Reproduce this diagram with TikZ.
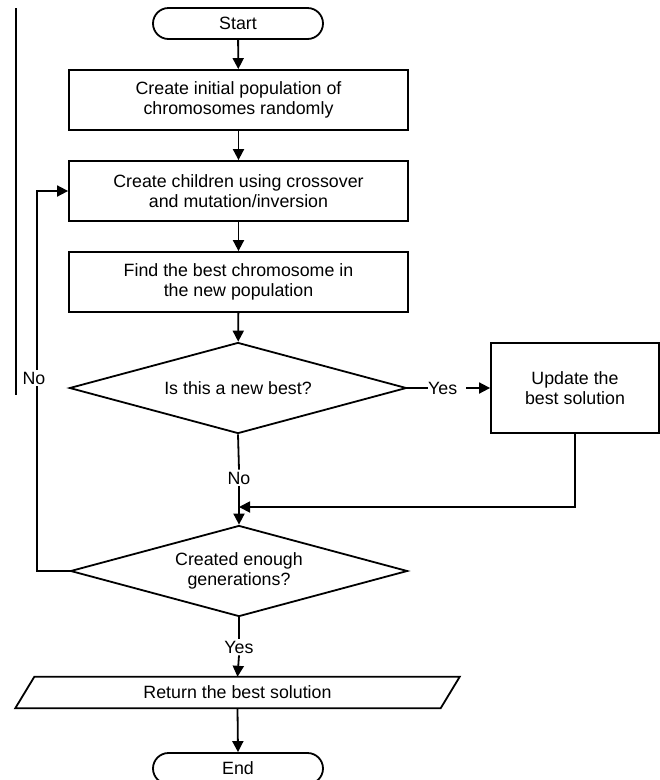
\documentclass[tikz,border=0pt]{standalone}
\usepackage{fontspec}
\setmainfont{Liberation Sans}
\usetikzlibrary{shapes.geometric,arrows.meta}
\begin{document}
\begin{tikzpicture}[x=1pt,y=1pt,
  every node/.style={font=\fontsize{17.8}{20.5}\selectfont},
  ln/.style={line width=1.8pt},
  arr/.style={line width=1.8pt,-{Triangle[length=11pt,width=11pt]}},
  proc/.style={draw,line width=1.8pt,minimum width=339pt,minimum height=60pt,align=center,inner sep=0pt},
  term/.style={draw,line width=1.8pt,rounded corners=15.5pt,minimum width=170pt,minimum height=31pt,inner sep=0pt},
  dec/.style={draw,line width=1.8pt,diamond,aspect=3.7,minimum width=337pt,minimum height=91pt,align=center,inner sep=0pt},
  lbl/.style={inner sep=2pt}
]
\useasboundingbox (0,0) rectangle (660,-780);
% stray border line
\coordinate (s1) at (16,-8);
\coordinate (s2) at (16,-395);
\draw[ln] (s1) -- (s2);

\node[term] (start) at (238,-23.5) {Start};
\node[proc] (b1) at (238.5,-100) {Create initial population of\\chromosomes randomly};
\node[proc] (b2) at (238.5,-191) {Create children using crossover\\and mutation/inversion};
\node[proc] (b3) at (238.5,-282) {Find the best chromosome in\\the new population};
\node[dec] (d1) at (238,-388) {Is this a new best?};
\node[draw,line width=1.8pt,minimum width=168pt,minimum height=90pt,align=center,inner sep=0pt] (upd) at (575,-388) {Update the\\best solution};
\node[dec] (d2) at (239,-571) {Created enough\\generations?};
\node[minimum width=425pt,minimum height=31pt,inner sep=0pt] (ret) at (237.5,-692.5) {Return the best solution};
\draw[ln] ([xshift=9.5pt]ret.north west) -- ([xshift=9.5pt]ret.north east) -- ([xshift=-9.5pt]ret.south east) -- ([xshift=-9.5pt]ret.south west) -- cycle;
\node[term] (end) at (238,-768.5) {End};

% labels
\node[inner sep=0pt,anchor=west] (yes1) at (428,-388) {Yes};
\node[lbl] (no1) at (239,-478) {No};
\node[lbl] (yes2) at (239,-647) {Yes};
\node[lbl] (noL) at (34,-378) {No};

\coordinate (j) at (239,-507);
\coordinate (fbl) at (37,-571);
\coordinate (fbt) at (37,-191);

\draw[arr] (start) -- (b1);
\draw[arr] (b1) -- (b2);
\draw[arr] (b2) -- (b3);
\draw[arr] (b3) -- (d1);
\draw[ln] (d1.east) -- (yes1.west);
\draw[arr,shorten <=9pt] (yes1.east) -- (upd.west);
\draw[ln] (d1.south) -- (no1.north);
\draw[arr] (no1.south) -- (d2.north);
\draw[arr] (upd.south) |- (j);
\draw[ln] (d2.south) -- (yes2.north);
\draw[arr] (yes2.south) -- (ret.north);
\draw[arr] (ret.south) -- (end.north);
\draw[ln] (d2.west) -- (fbl) -- (fbl |- noL.south);
\draw[arr] (fbl |- noL.north) -- (fbt) -- (b2.west);
\end{tikzpicture}
\end{document}
